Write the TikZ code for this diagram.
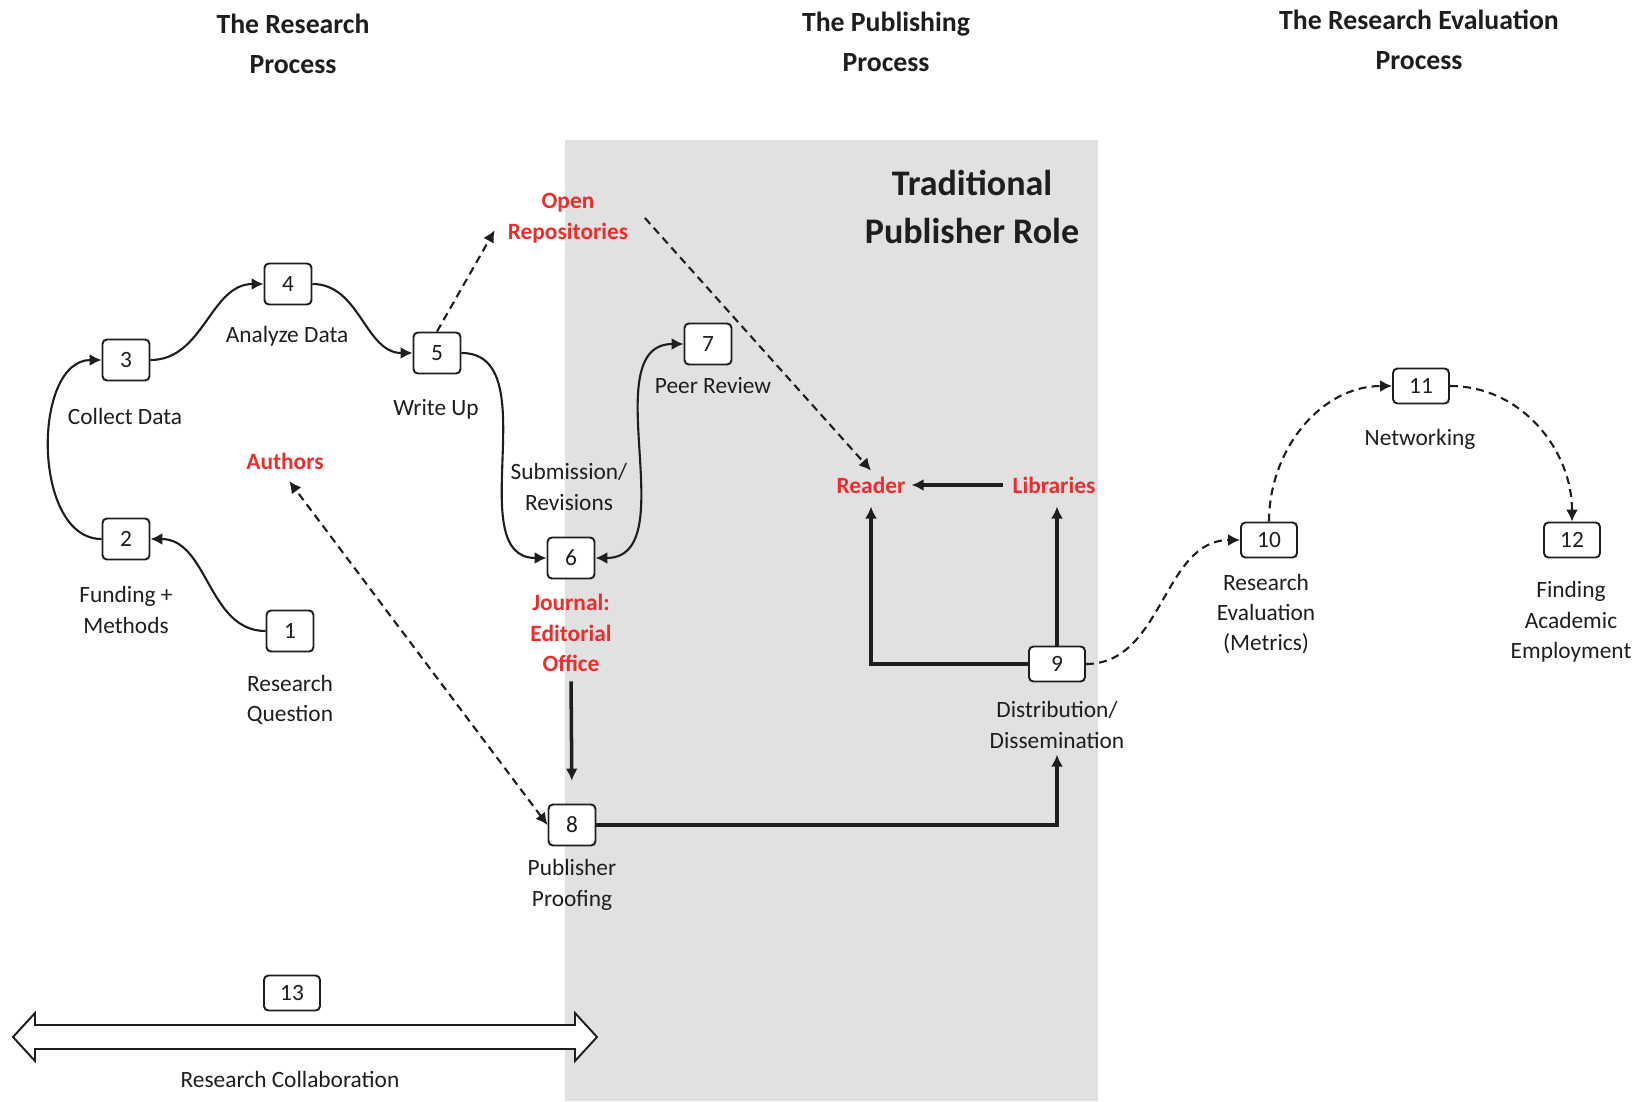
\documentclass[tikz,border=0pt]{standalone}
\usepackage{fontspec}
\setmainfont{Carlito}
\usetikzlibrary{arrows.meta}
\definecolor{pubgray}{RGB}{225,225,225}
\definecolor{actorred}{RGB}{236,45,45}
\definecolor{inkgray}{RGB}{30,30,30}

\begin{document}
\begin{tikzpicture}[
    x=0.02cm, y=-0.02cm,
    every node/.style={font=\fontsize{13.3}{17.3}\selectfont, text=inkgray},
    stepno/.style={rectangle, rounded corners=2.5pt, draw=inkgray, line width=1.1pt, fill=white, minimum width=9.4mm, minimum height=8.2mm, inner sep=0pt},
    widestep/.style={stepno, minimum width=11.2mm, minimum height=7mm},
    caption/.style={align=center},
    actor/.style={align=center, text=actorred, font=\fontsize{13.3}{17.3}\selectfont\bfseries},
    header/.style={align=center, font=\fontsize{15.8}{22.7}\selectfont\bfseries},
    flow/.style={draw=inkgray, line width=1.2pt, ->, >={Latex[length=2.4mm,width=2.4mm]}},
    dashflow/.style={flow, dash pattern=on 4.5pt off 3pt},
    pipe/.style={flow, line width=2pt}
]
\useasboundingbox (0,0) rectangle (1648,1101);

% Publisher band
\fill[pubgray] (565,140) rectangle (1098,1101);

% Column headings
\node[header] (headres) at (293,44) {The Research\\Process};
\node[header] (headpub) at (886,42) {The Publishing\\Process};
\node[header] (headeval) at (1419,40) {The Research Evaluation\\Process};
\node[align=center, font=\fontsize{20.5}{26.8}\selectfont\bfseries] (tradrole) at (972,207) {Traditional\\Publisher Role};

% Numbered steps
\node[stepno] (b1) at (290,631) {1};
\node[stepno] (b2) at (126,539) {2};
\node[stepno] (b3) at (126,360) {3};
\node[stepno] (b4) at (288,284) {4};
\node[stepno] (b5) at (437,353) {5};
\node[stepno] (b6) at (571,558) {6};
\node[stepno] (b7) at (708,344) {7};
\node[stepno] (b8) at (572,825) {8};
\node[widestep] (b9) at (1057,664) {9};
\node[widestep] (b10) at (1269,540) {10};
\node[widestep] (b11) at (1421,386) {11};
\node[widestep] (b12) at (1572,540) {12};
\node[widestep] (b13) at (292,993) {13};

% Step captions
\node[caption] (rq) at (290,700) {Research\\Question};
\node[caption] (fm) at (126,610) {Funding +\\Methods};
\node[caption] (cd) at (125,416) {Collect Data};
\node[caption] (ad) at (287,336) {Analyze Data};
\node[caption] (wu) at (436,409) {Write Up};
\node[caption] (sub) at (569,487) {Submission/\\Revisions};
\node[caption] (peer) at (713,386) {Peer Review};
\node[caption] (proof) at (572,885) {Publisher\\Proofing};
\node[caption] (dist) at (1057,725) {Distribution/\\Dissemination};
\node[caption] (reval) at (1266,614) {Research\\Evaluation\\(Metrics)};
\node[caption] (netw) at (1420,439) {Networking};
\node[caption] (find) at (1571,622) {Finding\\Academic\\Employment};
\node[caption] (collab) at (290,1079) {Research Collaboration};

% Actors
\node[actor] (authors) at (285,461) {Authors};
\node[actor] (repos) at (568,218) {Open\\Repositories};
\node[actor] (journal) at (571,633) {Journal:\\Editorial\\Office};
\node[actor] (reader) at (871,485) {Reader};
\node[actor] (libraries) at (1054,485) {Libraries};

% Research cycle
\draw[flow] (b1.west) to[out=180,in=0] (b2.east);
\draw[flow] (b2.west) to[out=180,in=180] (b3.west);
\draw[flow] (b3.east) to[out=0,in=180] (b4.west);
\draw[flow] (b4.east) to[out=0,in=180] (b5.west);
\draw[flow] (b5.east) to[out=0,in=180] (b6.west);
\draw[flow, <->] (b6.east) to[out=0,in=180] (b7.west);

% Open access routes
\draw[dashflow, shorten >=8pt] (b5.north) -- (repos.west);
\draw[dashflow] ([xshift=6pt]repos.east) -- (reader.north);
\draw[dashflow, <->, shorten >=4pt] (b8.west) -- (authors.south);

% Publisher pipeline
\draw[pipe, shorten <=2pt, shorten >=13pt] (journal.south) -- (b8.north);
\draw[pipe] (b8.east) -| (dist.south);
\draw[pipe, shorten >=4pt] (b9.west) -| (reader.south);
\draw[pipe, shorten >=4pt] (b9.north) -- (b9.north |- libraries.south);
\draw[pipe, shorten <=2pt] (libraries.west) -- (reader.east);

% Evaluation
\draw[dashflow] (b9.east) to[out=0,in=180] (b10.west);
\draw[dashflow] (b10.north) to[out=90,in=180] (b11.west);
\draw[dashflow] (b11.east) to[out=0,in=90] (b12.north);

% Collaboration arrow
\draw[line width=1.1pt, draw=inkgray, fill=white] (13,1037) -- (35,1013) -- (35,1025) -- (575,1025) -- (575,1013) -- (597,1037) -- (575,1061) -- (575,1049) -- (35,1049) -- (35,1061) -- cycle;

\end{tikzpicture}
\end{document}
